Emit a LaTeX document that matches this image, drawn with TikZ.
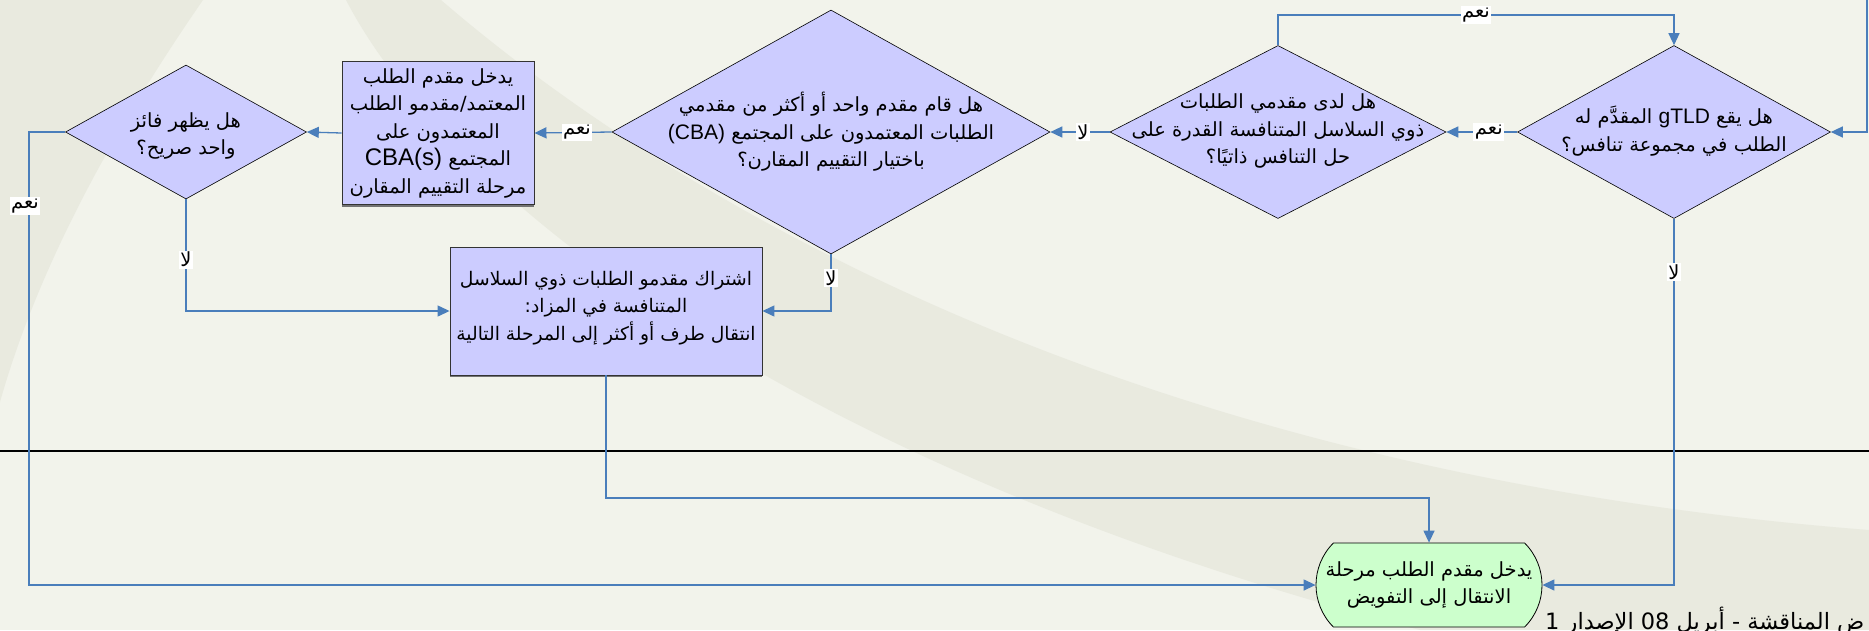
\documentclass[tikz,border=0pt]{standalone}
\usepackage{fontspec}
\setmainfont{Liberation Sans}
\newfontfamily\arfont[Script=Arabic]{DejaVu Sans}
\newfontfamily\lafont{Liberation Sans}
\TeXXeTstate=1
\usetikzlibrary{shapes.geometric,shapes.misc,arrows.meta}
\definecolor{bgcol}{HTML}{F2F3EB}
\definecolor{bandcol}{HTML}{E9EADF}
\definecolor{lnblue}{HTML}{4A7EBB}
\definecolor{boxfill}{HTML}{CCCCFF}
\definecolor{termfill}{HTML}{CCFFCC}
\newcommand\artx[1]{\beginR#1\endR}
\newcommand\latn[2][21]{\beginL{\lafont\fontsize{#1}{27.5}\selectfont #2}\endL}
\begin{document}
\begin{tikzpicture}[x=1pt,y=-1pt,
  dia/.style={diamond,draw=black,line width=0.6pt,fill=boxfill,inner sep=0pt},
  procbox/.style={rectangle,draw=black!80,line width=0.9pt,fill=boxfill,inner sep=0pt,
    preaction={fill=black!55,transform canvas={yshift=-2pt}}},
  termbox/.style={rounded rectangle,rounded rectangle arc length=90,draw=black,line width=0.8pt,fill=termfill,inner sep=0pt},
  txt/.style={align=center,inner sep=0pt,font=\arfont\fontsize{19.5}{27.5}\selectfont},
  lab/.style={fill=white,inner sep=1.5pt,font=\arfont\fontsize{19.5}{22}\selectfont},
  conn/.style={draw=lnblue,line width=1.3pt},
  arr/.style={conn,-{Triangle[length=12pt,width=11pt]}}
]
\useasboundingbox (0,0) rectangle (1869,630);
\clip (0,0) rectangle (1869,630);
% background
\fill[bgcol] (0,0) rectangle (1869,630);
\fill[bandcol] (0,0) -- (203,0) .. controls (120,120) and (40,260) .. (0,402) -- cycle;
\fill[bandcol] (346,0) .. controls (450,200) and (800,470) .. (1420,630) -- (1869,630) -- (1869,530)
  .. controls (1100,470) and (650,180) .. (441,0) -- cycle;
% separator line
\draw[black,line width=1.1pt] (0,451) -- (1869,451);

% nodes
\node[dia,minimum width=313pt,minimum height=173pt] (d1) at (1674,132) {};
\node[txt] (d1t) at (1674,131) {\artx{هل يقع \latn{gTLD} المقدَّم له}\\\artx{الطلب في مجموعة تنافس؟}};

\node[dia,minimum width=336pt,minimum height=173pt] (d2) at (1278,132) {};
\node[txt] (d2t) at (1278,131) {\artx{هل لدى مقدمي الطلبات}\\\artx{ذوي السلاسل المتنافسة القدرة على}\\\artx{حل التنافس ذاتيًا؟}};

\node[dia,minimum width=438pt,minimum height=244pt] (d3) at (831,132) {};
\node[txt] (d3t) at (831,132) {\artx{هل قام مقدم واحد أو أكثر من مقدمي}\\\artx{الطلبات المعتمدون على المجتمع \latn{(CBA)}}\\\artx{باختيار التقييم المقارن؟}};

\node[procbox,minimum width=192pt,minimum height=143pt] (r1) at (438,133) {};
\node[txt] (r1t) at (438,133) {\artx{يدخل مقدم الطلب}\\\artx{المعتمد/مقدمو الطلب}\\\artx{المعتمدون على}\\\artx{المجتمع \latn[24]{CBA(s)}}\\\artx{مرحلة التقييم المقارن}};

\node[dia,minimum width=241pt,minimum height=134pt] (d4) at (186,132) {};
\node[txt] (d4t) at (186,136) {\artx{هل يظهر فائز}\\\artx{واحد صريح؟}};

\node[procbox,minimum width=312pt,minimum height=128pt] (r2) at (606,311) {};
\node[txt,font=\arfont\fontsize{18.7}{27.5}\selectfont] (r2t) at (606,308) {\artx{اشتراك مقدمو الطلبات ذوي السلاسل}\\\artx{المتنافسة في المزاد:}\\\artx{انتقال طرف أو أكثر إلى المرحلة التالية}};

\node[termbox,minimum width=226pt,minimum height=84pt] (t) at (1429,585) {};
\node[txt] (tt) at (1429,585) {\artx{يدخل مقدم الطلب مرحلة}\\\artx{الانتقال إلى التفويض}};

\node[anchor=base west,inner sep=0pt,font=\arfont\fontsize{22.5}{26}\selectfont] (foot) at (1545,629) {\artx{ض المناقشة - أبريل \beginL 08\endL{} الإصدار \beginL 1\endL}};

% connectors
\coordinate (in1) at (1867,0);
\coordinate (top) at (1278,15);
\coordinate (lc) at (29,585);
\coordinate (j) at (1429,498);
\draw[arr] (in1) |- (d1.east);
\draw[arr] (d1.west) -- node[lab,pos=0.4]{\artx{نعم}} (d2.east);
\draw[arr] (d2.north) -- (top) -| node[lab,pos=0.25]{\artx{نعم}} (d1.north);
\draw[arr] (d2.west) -- node[lab,pos=0.45]{\artx{لا}} (d3.east);
\draw[arr] (d3.west) -- node[lab,pos=0.45]{\artx{نعم}} (r1.east);
\draw[arr] (r1.west) -- (d4.east);
\draw[arr] (d4.west) -| (lc) -- (t.west);
\node[lab] (yl) at (25,206) {\artx{نعم}};
\draw[arr] (d4.south) |- node[lab,pos=0.27]{\artx{لا}} (r2.west);
\draw[arr] (d3.south) |- node[lab,pos=0.21]{\artx{لا}} (r2.east);
\draw[arr] (r2.south) |- (j) -- (t.north);
\draw[arr] (d1.south) |- node[lab,pos=0.073]{\artx{لا}} (t.east);
\end{tikzpicture}
\end{document}
